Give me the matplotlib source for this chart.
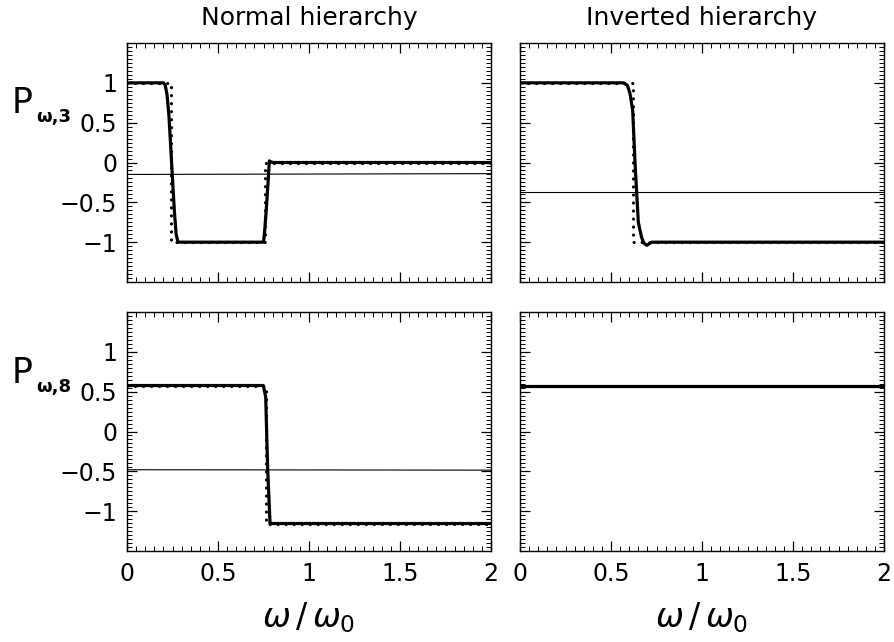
import matplotlib
matplotlib.use("Agg")
import matplotlib.pyplot as plt
from matplotlib.ticker import MultipleLocator, FixedLocator, FixedFormatter

plt.rcParams['font.family'] = ['DejaVu Sans']
plt.rcParams['mathtext.fontset'] = 'dejavusans'

# panel titles and axis text
col_titles = ["Normal hierarchy", "Inverted hierarchy"]
row_labels = ["ω,3", "ω,8"]
xtick_vals = [0, 0.5, 1, 1.5, 2]
xtick_text = ["0", "0.5", "1", "1.5", "2"]
ytick_vals = [-1, -0.5, 0, 0.5, 1]
ytick_text = ["\u22121", "\u22120.5", "0", "0.5", "1"]

# normal hierarchy, P_w3
nh3_solid_x = [0, 0.2, 0.21, 0.22, 0.23, 0.245, 0.26, 0.27, 0.28, 0.75, 0.755, 0.765, 0.775, 0.782, 0.79, 0.80, 2.0]
nh3_solid_y = [1, 1, 0.97, 0.85, 0.6, 0.0, -0.6, -0.9, -1, -1, -0.9, -0.6, -0.25, 0.02, 0.01, 0, 0]
nh3_dot_x = [0, 0.24, 0.24, 0.758, 0.758, 2]
nh3_dot_y = [1, 1, -1, -1, 0, 0]
nh3_thin_x = [0, 2]
nh3_thin_y = [-0.15, -0.14]

# inverted hierarchy, P_w3
ih3_solid_x = [0, 0.568, 0.59, 0.604, 0.619, 0.632, 0.65, 0.668, 0.68, 0.696, 0.71, 0.723, 2]
ih3_solid_y = [1, 1, 0.97, 0.87, 0.66, 0.0, -0.75, -0.94, -1.01, -1.04, -1.02, -1.0, -1.0]
ih3_dot_x = [0, 0.62, 0.62, 2]
ih3_dot_y = [1, 1, -1, -1]
ih3_thin_x = [0, 2]
ih3_thin_y = [-0.37, -0.37]

# normal hierarchy, P_w8
nh8_solid_x = [0, 0.749, 0.762, 0.773, 0.786, 2]
nh8_solid_y = [0.577, 0.577, 0.435, -0.48, -1.155, -1.155]
nh8_dot_x = [0, 0.763, 0.763, 2]
nh8_dot_y = [0.577, 0.577, -1.155, -1.155]
nh8_thin_x = [0, 2]
nh8_thin_y = [-0.48, -0.485]

# inverted hierarchy, P_w8
ih8_solid_x = [0, 2]
ih8_solid_y = [0.577, 0.577]
ih8_dot_x = [0, 2]
ih8_dot_y = [0.577, 0.577]
ih8_thin_x = [0, 2]
ih8_thin_y = [0.577, 0.577]

panels = [
    [(nh3_solid_x, nh3_solid_y, nh3_dot_x, nh3_dot_y, nh3_thin_x, nh3_thin_y),
     (ih3_solid_x, ih3_solid_y, ih3_dot_x, ih3_dot_y, ih3_thin_x, ih3_thin_y)],
    [(nh8_solid_x, nh8_solid_y, nh8_dot_x, nh8_dot_y, nh8_thin_x, nh8_thin_y),
     (ih8_solid_x, ih8_solid_y, ih8_dot_x, ih8_dot_y, ih8_thin_x, ih8_thin_y)],
]

W, H = 894, 642
fig = plt.figure(figsize=(W / 100, H / 100), dpi=100)

lefts = [127, 520]
tops = [43, 312]
aw, ah = 364, 239

for r in range(2):
    for c in range(2):
        x0 = lefts[c] / W
        y0 = 1 - (tops[r] + ah) / H
        ax = fig.add_axes([x0, y0, aw / W, ah / H])
        sx, sy, dx, dy, tx, ty = panels[r][c]
        ax.plot(tx, ty, color='black', lw=0.8)
        ax.plot(dx, dy, color='black', lw=2.3, linestyle=(0, (0.01, 2.5)),
                dash_capstyle='round')
        ax.plot(sx, sy, color='black', lw=2.3, solid_joinstyle='round')
        ax.set_xlim(0, 2)
        ax.set_ylim(-1.5, 1.5)

        ax.xaxis.set_major_locator(FixedLocator(xtick_vals))
        ax.yaxis.set_major_locator(FixedLocator(ytick_vals))
        ax.xaxis.set_minor_locator(MultipleLocator(0.05))
        ax.yaxis.set_minor_locator(MultipleLocator(0.05))
        ax.tick_params(which='both', direction='in', top=True, right=True,
                       labelsize=17, color='black')
        ax.tick_params(which='major', length=7, width=0.9)
        ax.tick_params(which='minor', length=3.5, width=0.7)
        ax.tick_params(axis='x', pad=8)
        ax.tick_params(axis='y', pad=7)
        for sp in ax.spines.values():
            sp.set_linewidth(1.0)

        if r == 1:
            ax.xaxis.set_major_formatter(FixedFormatter(xtick_text))
            ax.set_xlabel(r"$\omega\,/\,\omega_0$", fontsize=24, labelpad=10)
        else:
            ax.set_xticklabels([])
            ax.set_title(col_titles[c], fontsize=18, pad=13)
        if c == 0:
            ax.yaxis.set_major_formatter(FixedFormatter(ytick_text))
        else:
            ax.set_yticklabels([])

# row labels: big P with bold subscript
for r in range(2):
    base = [113, 383][r]
    fig.text(12 / W, 1 - base / H, "P", fontsize=25, va='baseline', ha='left')
    fig.text(36 / W, 1 - (base + 9) / H, row_labels[r], fontsize=13,
             fontweight='bold', va='baseline', ha='left')

fig.savefig("out.png", dpi=100)
